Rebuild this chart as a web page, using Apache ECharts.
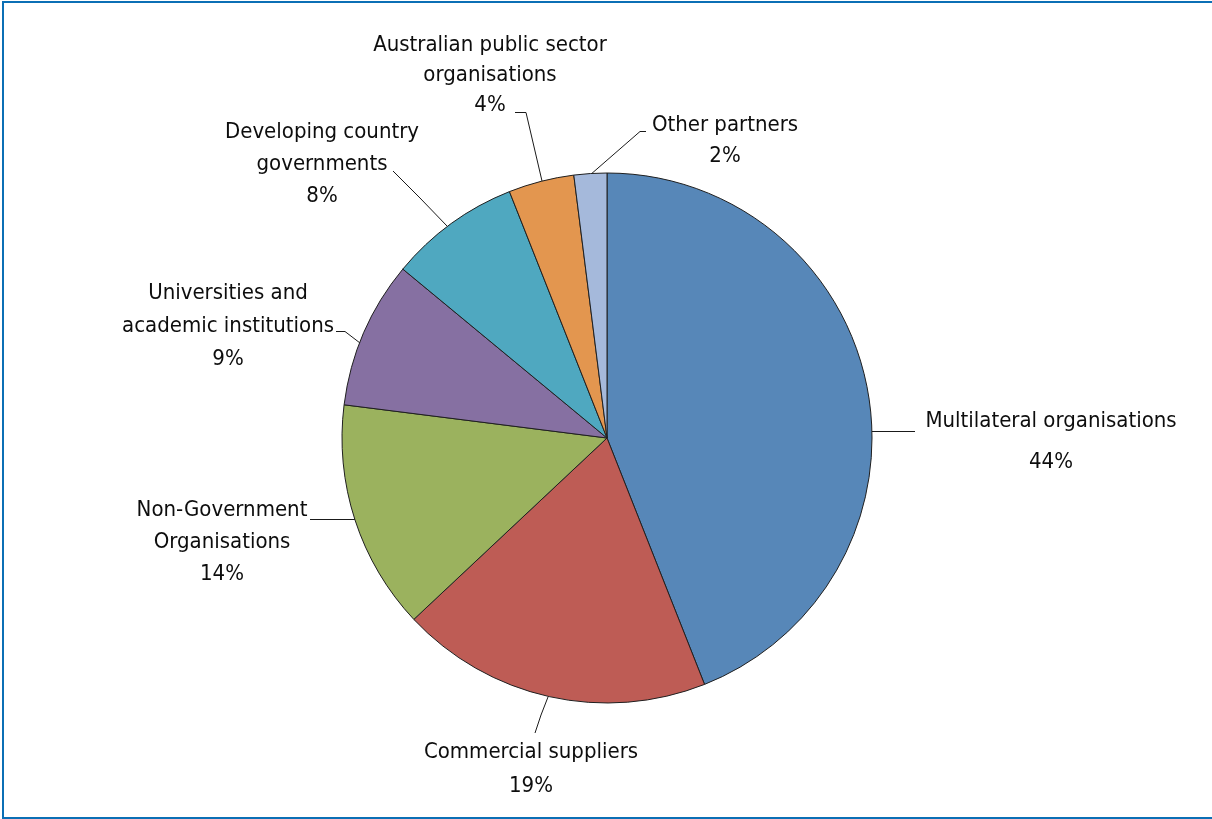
<!DOCTYPE html>
<html>
<head>
<meta charset="utf-8">
<script src="https://cdn.jsdelivr.net/npm/echarts@6/dist/echarts.min.js"></script>
<style>
  html, body { margin: 0; padding: 0; background: #fff; }
  #frame {
    position: absolute; left: 2px; top: 1px; width: 1210px; height: 814px;
    border-top: 2px solid #0b6fb5; border-left: 2px solid #0b6fb5; border-bottom: 2px solid #0b6fb5;
  }
  #chart { position: absolute; left: 0; top: 0; width: 1212px; height: 819px; }
</style>
</head>
<body>
<div id="frame"></div>
<div id="chart"></div>
<script>
// partner categories (clockwise from 12 o'clock)
const categories = [
  'Multilateral organisations',
  'Commercial suppliers',
  'Non-Government\nOrganisations',
  'Universities and\nacademic institutions',
  'Developing country\ngovernments',
  'Australian public sector\norganisations',
  'Other partners'
]
const shares = [44, 19, 14, 9, 8, 4, 2]
const colors = ['#5787b8', '#be5c55', '#9bb25e', '#8670a2', '#4fa8c0', '#e3964f', '#a5b9db']

// where each label block sits (centre, px) and its line spacing
const labelSpots = [
  [1051, 442], [531, 769], [222, 542], [228, 326], [322, 164], [490, 75], [725, 141]
]
const labelLineHeights = [41, 34, 32, 33, 32, 30, 31]

// leader lines, label side first, ending on the pie edge
const leaders = [
  [[915, 431.5], [893, 431.5], [872, 431.5]],
  [[535, 733], [541, 715], [548, 697]],
  [[310, 519.5], [332, 519.5], [355, 519.5]],
  [[336, 331.5], [345, 331.5], [360, 343]],
  [[393, 171], [420, 198], [447, 226]],
  [[515, 112.5], [526, 112.5], [542, 181]],
  [[646, 131.5], [640, 131.5], [590, 175]]
]

const chart = echarts.init(document.getElementById('chart'))

chart.setOption({
  animation: false,
  color: colors,
  series: [
    {
      type: 'pie',
      center: [607, 438],
      radius: 265,
      startAngle: 90,
      clockwise: true,
      data: categories.map((name, i) => ({
        name,
        value: shares[i],
        label: { lineHeight: labelLineHeights[i] }
      })),
      itemStyle: { borderColor: '#1f1f1f', borderWidth: 1 },
      label: {
        show: true,
        formatter: '{b}\n{c}%',
        fontFamily: '"Liberation Sans Narrow", "DejaVu Sans Condensed", "Arial Narrow", sans-serif',
        fontSize: 22,
        color: '#0d0d0d',
        align: 'center'
      },
      labelLine: {
        show: true,
        lineStyle: { color: '#1a1a1a', width: 1 }
      },
      labelLayout: (params) => {
        const p = labelSpots[params.dataIndex]
        return {
          x: p[0],
          y: p[1],
          align: 'center',
          verticalAlign: 'middle',
          labelLinePoints: leaders[params.dataIndex].slice().reverse()
        }
      }
    }
  ]
})

window.addEventListener('resize', () => chart.resize())
</script>
</body>
</html>
